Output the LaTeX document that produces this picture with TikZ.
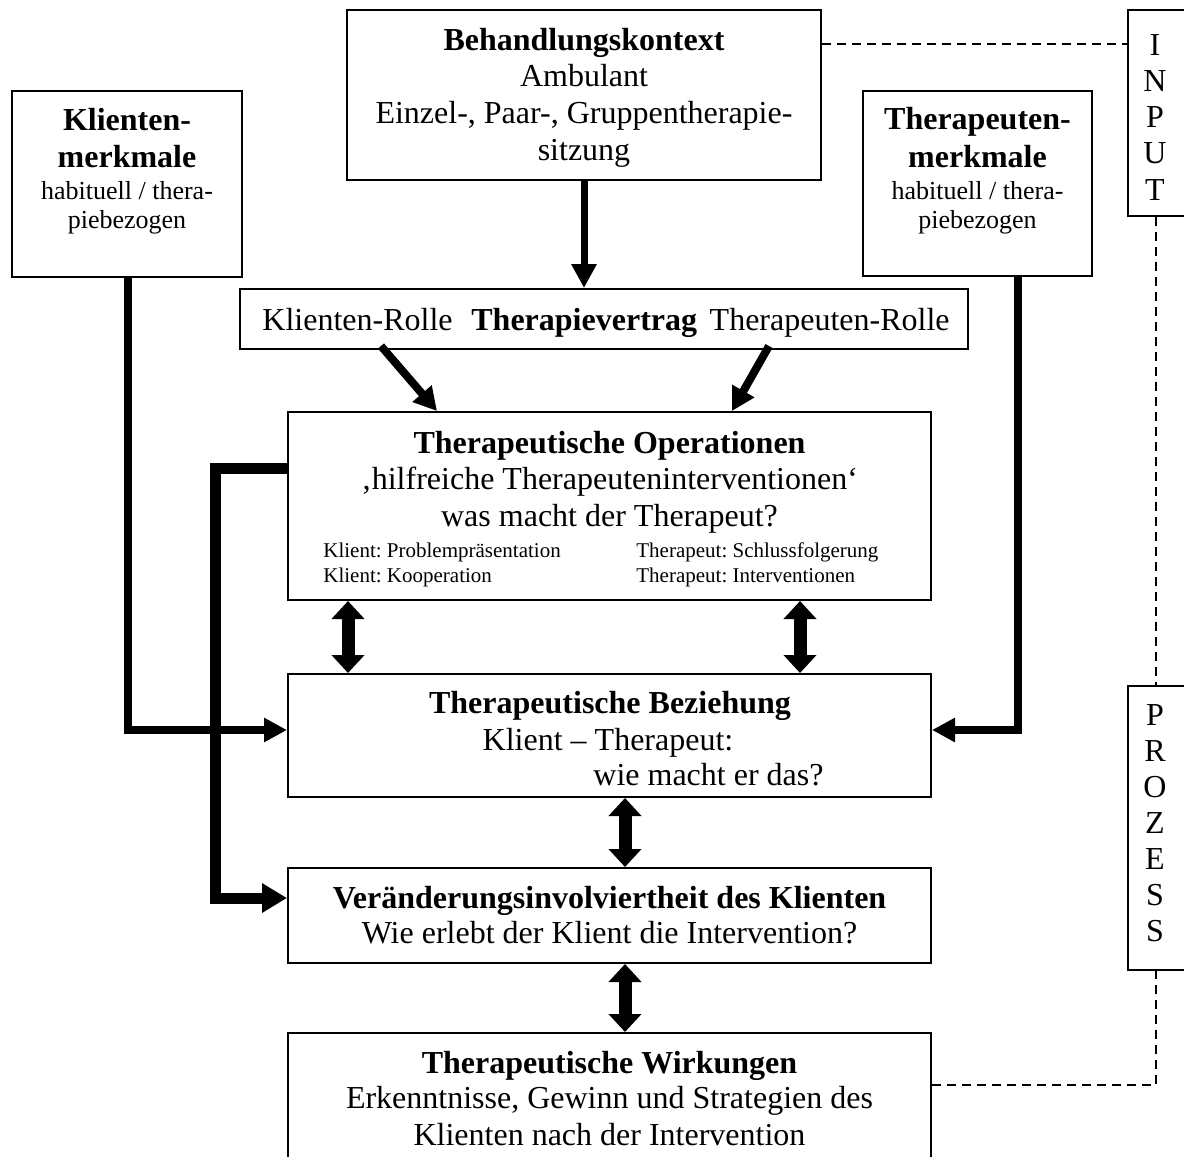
\documentclass[tikz,border=0pt]{standalone}
\usepackage{fontspec}
\setmainfont{Liberation Serif}
\usetikzlibrary{arrows.meta,fit}
\frenchspacing
\begin{document}
\begin{tikzpicture}[x=0.5pt,y=-0.5pt,
  box/.style={draw, line width=1pt, inner sep=0pt},
  big/.style={anchor=base, inner sep=0pt, font=\fontsize{16}{18}\selectfont},
  bigb/.style={big, font=\fontsize{16}{18}\selectfont\bfseries},
  mid/.style={anchor=base, inner sep=0pt, font=\fontsize{13}{15}\selectfont},
  midb/.style={anchor=base, inner sep=0pt, font=\fontsize{16}{18}\selectfont\bfseries},
  small/.style={anchor=base west, inner sep=0pt, font=\fontsize{10.5}{12}\selectfont},
  down/.style={line width=3.5pt, -{Triangle[length=12pt,width=12pt]}},
  feed/.style={line width=4pt, -{Triangle[length=11.5pt,width=11.5pt]}},
  feedfat/.style={line width=5.5pt, -{Triangle[length=12.5pt,width=14pt]}},
  diag/.style={line width=4pt, -{Triangle[length=11.5pt,width=12pt]}},
  both/.style={line width=6.5pt, {Triangle[length=9pt,width=16pt]}-{Triangle[length=9pt,width=16pt]}},
  dline/.style={line width=1.1pt, dash pattern=on 4.5pt off 3pt}
]
\useasboundingbox (0,0) rectangle (1184,1157);
\clip (0,0) rectangle (1184,1157);

% boxes
\node[box, fit={(347,10) (821,180)}] (ctx) {};
\node[box, fit={(12,91) (242,277)}] (kl) {};
\node[box, fit={(863,91) (1092,276)}] (th) {};
\node[box, fit={(240,289) (968,349)}] (vertrag) {};
\node[box, fit={(288,412) (931,600)}] (ops) {};
\node[box, fit={(288,674) (931,797)}] (bez) {};
\node[box, fit={(288,868) (931,963)}] (ver) {};
\node[box, fit={(288,1033) (931,1160)}] (wirk) {};
\node[box, fit={(1128,10) (1200,216)}] (inp) {};
\node[box, fit={(1128,686) (1200,970)}] (proz) {};

% texts
\node[bigb] (ctx-1) at (584,50) {Behandlungskontext};
\node[big]  (ctx-2) at (584,86) {Ambulant};
\node[big]  (ctx-3) at (584,123) {Einzel-, Paar-, Gruppentherapie-};
\node[big]  (ctx-4) at (584,160) {sitzung};

\node[midb] (kl-1) at (127,130) {Klienten-};
\node[midb] (kl-2) at (127,167) {merkmale};
\node[mid]  (kl-3) at (127,199) {habituell / thera-};
\node[mid]  (kl-4) at (127,228) {piebezogen};

\node[midb] (th-1) at (977.5,129) {Therapeuten-};
\node[midb] (th-2) at (977.5,167) {merkmale};
\node[mid]  (th-3) at (977.5,199) {habituell / thera-};
\node[mid]  (th-4) at (977.5,228) {piebezogen};

\node[big, anchor=base west]  (vt-1) at (262,330) {Klienten-Rolle};
\node[bigb, anchor=base west] (vt-2) at (471,330) {Therapievertrag};
\node[big, anchor=base east]  (vt-3) at (950,330) {Therapeuten-Rolle};

\node[bigb] (ops-1) at (609.5,453) {Therapeutische Operationen};
\node[big]  (ops-2) at (609.5,489) {‚hilfreiche Therapeuteninterventionen‘};
\node[big]  (ops-3) at (609.5,526) {was macht der Therapeut?};
\node[small] (ops-4) at (323,557) {Klient: Problempräsentation};
\node[small] (ops-5) at (323,582) {Klient: Kooperation};
\node[small] (ops-6) at (636,557) {Therapeut: Schlussfolgerung};
\node[small] (ops-7) at (636,582) {Therapeut: Interventionen};

\node[bigb] (bez-1) at (610,713) {Therapeutische Beziehung};
\node[big]  (bez-2) at (608,750) {Klient – Therapeut:};
\node[big, anchor=base west] (bez-3) at (593,785) {wie macht er das?};

\node[bigb] (ver-1) at (609.5,908) {Veränderungsinvolviertheit des Klienten};
\node[big]  (ver-2) at (609.5,943) {Wie erlebt der Klient die Intervention?};

\node[bigb] (wirk-1) at (609.5,1073) {Therapeutische Wirkungen};
\node[big]  (wirk-2) at (609.5,1108) {Erkenntnisse, Gewinn und Strategien des};
\node[big]  (wirk-3) at (609.5,1145) {Klienten nach der Intervention};

\foreach \c [count=\i] in {I,N,P,U,T}
  \node[big] (inp-\i) at (1155,{55+36.25*(\i-1)}) {\c};
\foreach \c [count=\i] in {P,R,O,Z,E,S,S}
  \node[big] (proz-\i) at (1155,{725+36*(\i-1)}) {\c};

% reference points for connectors
\coordinate (y44) at (0,44);
\coordinate (y468) at (0,468);
\coordinate (y730) at (0,730);
\coordinate (y898) at (0,898);
\coordinate (y1085) at (0,1085);
\coordinate (xdash) at (1156,0);
\coordinate (xleft) at (215,0);
\coordinate (xkl) at (128,0);
\coordinate (xth) at (1018,0);
\coordinate (colL) at (348,0);
\coordinate (colR) at (800,0);
\coordinate (colM) at (625,0);
\coordinate (krOut) at (381,346);
\coordinate (trOut) at (769,346);
\coordinate (krIn) at (437,0);
\coordinate (trIn) at (732,0);

% connectors
\draw[down] (ctx.south) -- (vertrag.north -| ctx.south);
\draw[diag] (krOut) -- (ops.north -| krIn);
\draw[diag] (trOut) -- (ops.north -| trIn);
\draw[feed] (kl.south -| xkl) -- (xkl |- y730) -- (bez.west |- y730);
\draw[feed] (th.south -| xth) -- (xth |- y730) -- (bez.east |- y730);
\draw[feedfat] (ops.west |- y468) -- (xleft |- y468) -- (xleft |- y898) -- (ver.west |- y898);
\draw[both] (ops.south -| colL) -- (bez.north -| colL);
\draw[both] (ops.south -| colR) -- (bez.north -| colR);
\draw[both] (bez.south -| colM) -- (ver.north -| colM);
\draw[both] (ver.south -| colM) -- (wirk.north -| colM);

% dashed phase links
\draw[dline] (ctx.east |- y44) -- (inp.west |- y44);
\draw[dline] (inp.south -| xdash) -- (proz.north -| xdash);
\draw[dline] (wirk.east |- y1085) -| (proz.south -| xdash);
\end{tikzpicture}
\end{document}
